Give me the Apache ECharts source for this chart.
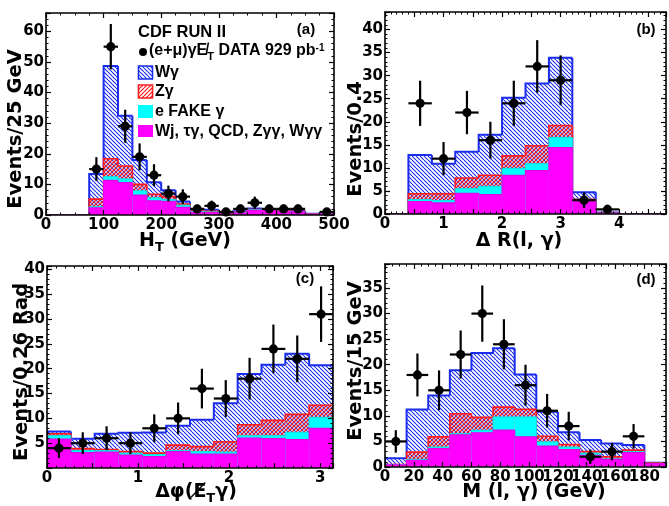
<!DOCTYPE html>
<html><head><meta charset="utf-8">
<script src="https://cdn.jsdelivr.net/npm/echarts@6/dist/echarts.min.js"></script>
<style>html,body{margin:0;padding:0;background:#fff}#c{width:669px;height:506px}</style>
</head><body><div id="c"></div><script>
// ---------- Panel (a): H_T ----------
const aEdges  = [0,25,50,75,100,125,150,175,200,225,250,275,300,325,350,375,400,425,450,475,500];
const aOther  = [0,0,0,2.3,11.3,10.6,6.5,4.6,4.5,2.5,0.9,0.8,0.6,0.7,1.5,1.5,1.1,1.0,0.3,0.4];
const aEfake  = [0,0,0,0.4,1.2,1.2,1.4,1.0,0.6,0.7,0.3,0.2,0.1,0.1,0.2,0.1,0.1,0.1,0,0];
const aZg     = [0,0,0,2.5,5.9,4.2,2.1,1.2,0.9,0.4,0.2,0.2,0.1,0.1,0.1,0.1,0.1,0.1,0.1,0.1];
const aWg     = [0,0,0,8.2,30.3,16.4,8.0,3.9,2.1,0.8,0.2,0.5,0.2,0.3,0.3,0.2,0.2,0.1,0,0.1];
const aCounts = [0,0,0,15,55,29,19,13,7,6,2,3,1,2,4,2,2,2,0,1];
const aErrs   = [0,0,0,3.9,7.4,5.4,4.4,3.6,2.6,2.4,1.4,1.7,1,1.4,2,1.4,1.4,1.4,0,1];
// ---------- Panel (b): Delta R ----------
const bEdges  = [0,0.4,0.8,1.2,1.6,2.0,2.4,2.8,3.2,3.6,4.0,4.4,4.8];
const bOther  = [0,2.7,2.4,4.5,4.2,8.4,9.4,14.4,2.9,0.2,0,0];
const bEfake  = [0,0.4,0.5,1.0,1.8,1.5,1.5,2.2,0.2,0,0,0];
const bZg     = [0,1.3,1.5,2.3,2.4,2.7,3.9,2.6,0.1,0,0,0];
const bWg     = [0,8.4,6.5,5.7,8.8,12.6,13.5,14.7,1.5,0.1,0,0];
const bCounts = [0,24,12,22,16,24,32,29,3,1,0,0];
const bErrs   = [0,4.9,3.6,4.7,4.0,4.9,5.7,5.4,1.7,1,0,0];
// ---------- Panel (c): Delta phi ----------
const cEdges  = [0,0.2618,0.5236,0.7854,1.0472,1.309,1.5708,1.8326,2.0944,2.3562,2.618,2.8798,3.1416];
const cOther  = [5.8,3.1,3.2,2.6,2.3,3.3,2.8,2.8,6.0,5.9,5.7,8.0];
const cEfake  = [0.7,0.4,0.3,0.4,0.4,0.2,0.5,0.4,0.5,0.6,1.5,2.2];
const cZg     = [0.4,0.4,0.2,0.3,0.3,1.1,1.0,2.1,2.2,3.1,3.6,2.45];
const cWg     = [0.45,2.0,3.2,3.8,4.15,3.9,5.4,7.75,10.25,11.2,12.2,8.05];
const cCounts = [4,5,6,5,8,10,16,14,18,24,22,31];
const cErrs   = [2,2.2,2.4,2.2,2.8,3.2,4,3.7,4.2,4.9,4.7,5.6];
// ---------- Panel (d): M(l,gamma) ----------
const dEdges  = [0,15,30,45,60,75,90,105,120,135,150,165,180,195];
const dOther  = [0.4,1.3,3.6,6.3,6.7,7.2,5.9,4.1,3.4,2.3,1.5,2.8,0.65];
const dEfake  = [0.05,0.2,0.3,0.2,0.5,2.6,3.9,0.8,0.5,0.4,0.1,0.2,0.05];
const dZg     = [0.05,1.4,2.0,3.9,2.5,1.9,1.5,1.1,0.5,0.3,0.4,0.3,0.05];
const dWg     = [1.2,8.35,8.1,8.5,12.6,11.5,6.8,4.8,2.4,2.3,2.6,1.0,0.1];
const dCounts = [5,18,15,22,30,24,16,11,8,2,3,6,0];
const dErrs   = [2.2,4.2,3.9,4.7,5.5,4.9,4,3.3,2.8,1.4,1.7,2.4,0];

const panels = [
  {edges:aEdges, other:aOther, efake:aEfake, zg:aZg, wg:aWg, counts:aCounts, errs:aErrs,
   grid:{left:46, top:13, width:288, height:202},
   x:{min:0, max:500, interval:100, label:100, minor:4}, y:{min:0, max:66, interval:10, label:10, minor:5, hideZero:false}},
  {edges:bEdges, other:bOther, efake:bEfake, zg:bZg, wg:bWg, counts:bCounts, errs:bErrs,
   grid:{left:385, top:12, width:282, height:202},
   x:{min:0, max:4.8, interval:0.5, label:1, minor:5}, y:{min:0, max:43.8, interval:5, label:5, minor:5, hideZero:false}},
  {edges:cEdges, other:cOther, efake:cEfake, zg:cZg, wg:cWg, counts:cCounts, errs:cErrs,
   grid:{left:47, top:266, width:286, height:202},
   x:{min:0, max:3.1416, interval:0.5, label:1, minor:5}, y:{min:0, max:40.7, interval:5, label:5, minor:5, hideZero:true}},
  {edges:dEdges, other:dOther, efake:dEfake, zg:dZg, wg:dWg, counts:dCounts, errs:dErrs,
   grid:{left:385, top:264, width:282, height:203},
   x:{min:0, max:195, interval:20, label:20, minor:4}, y:{min:0, max:39.7, interval:5, label:5, minor:5, hideZero:false}}
];

function makeHatch(lines, size, bg) {
  const cv = document.createElement('canvas'); cv.width = size; cv.height = size;
  const ctx = cv.getContext('2d');
  if (bg) { ctx.fillStyle = bg; ctx.fillRect(0, 0, size, size); }
  lines.forEach(([color, dir, w]) => {
    ctx.strokeStyle = color; ctx.lineWidth = w;
    for (let k = -1; k <= 1; k++) {
      ctx.beginPath();
      if (dir === 'b') { ctx.moveTo(k*size, 0); ctx.lineTo(k*size+size, size); }
      else { ctx.moveTo(k*size, size); ctx.lineTo(k*size+size, 0); }
      ctx.stroke();
    }
  });
  return {image: cv, repeat: 'repeat'};
}
const BLUE = '#1a2cf0', RED = '#ff1a1a', CYAN = '#00ffff', MAG = '#ff00ff';
const wgPat = makeHatch([[BLUE, 'b', 1.1]], 4, '#ffffff');
const zgPat = makeHatch([[BLUE, 'b', 1.1], [RED, 'f', 1.3]], 4, '#ffffff');
const zgLegPat = makeHatch([[RED, 'f', 1.2]], 4, '#ffffff');

function cum(p, i) {
  const m = p.other[i], c = m + p.efake[i], r = c + p.zg[i], b = r + p.wg[i];
  return [m, c, r, b];
}

function histRender(p) {
  return function (params, api) {
    const i = params.dataIndex;
    const x0 = p.edges[i], x1 = p.edges[i+1];
    const cur = cum(p, i);
    const prev = i > 0 ? cum(p, i-1) : [0,0,0,0];
    const last = i === p.edges.length - 2;
    const ch = [];
    const rect = (yt, fill, z2) => {
      const A = api.coord([x0, yt]), B = api.coord([x1, 0]);
      return {type:'rect', shape:{x:A[0], y:A[1], width:B[0]-A[0], height:B[1]-A[1]}, style:{fill:fill}, z2:z2};
    };
    if (cur[3] > 0) ch.push(rect(cur[3], wgPat, 1));
    if (cur[2] > 0) ch.push(rect(cur[2], zgPat, 3));
    if (cur[1] > 0) ch.push(rect(cur[1], CYAN, 5));
    if (cur[0] > 0) ch.push(rect(cur[0], MAG, 7));
    const outline = (k, color, w, z2) => {
      const pts = [api.coord([x0, prev[k]]), api.coord([x0, cur[k]]), api.coord([x1, cur[k]])];
      if (last) pts.push(api.coord([x1, 0]));
      return {type:'polyline', shape:{points:pts}, style:{stroke:color, lineWidth:w, fill:null}, z2:z2};
    };
    ch.push(outline(3, BLUE, 2, 2));
    ch.push(outline(2, RED, 1.6, 4));
    ch.push(outline(1, '#00e8e8', 1, 6));
    ch.push(outline(0, '#e600e6', 1.2, 8));
    return {type:'group', children:ch};
  };
}

function errRender(p) {
  return function (params, api) {
    const i = params.dataIndex;
    const n = p.counts[i];
    if (!(n > 0)) return null;
    const xc = (p.edges[i] + p.edges[i+1]) / 2, e = p.errs[i];
    const T = api.coord([xc, n + e]), B = api.coord([xc, Math.max(n - e, 0)]);
    const L = api.coord([p.edges[i], n]), R = api.coord([p.edges[i+1], n]), C = api.coord([xc, n]);
    return {type:'group', children:[
      {type:'line', shape:{x1:T[0], y1:T[1], x2:B[0], y2:B[1]}, style:{stroke:'#000', lineWidth:2.2}},
      {type:'line', shape:{x1:L[0], y1:L[1], x2:R[0], y2:R[1]}, style:{stroke:'#000', lineWidth:2.2}},
      {type:'circle', shape:{cx:C[0], cy:C[1], r:4.6}, style:{fill:'#000'}}
    ]};
  };
}

const tickFont = {color:'#000', fontFamily:'DejaVu Sans', fontWeight:'bold', fontSize:15};
function labelFmt(step, hideZero) {
  return function (v) {
    const q = v / step;
    if (Math.abs(q - Math.round(q)) > 1e-6) return '';
    if (hideZero && Math.abs(v) < 1e-9) return '';
    return String(Math.round(v * 1000) / 1000);
  };
}

const grids = [], xAxes = [], yAxes = [], series = [];
panels.forEach((p, i) => {
  grids.push(Object.assign({containLabel:false}, p.grid));
  [false, true].forEach(top => {
    xAxes.push({type:'value', gridIndex:i, position: top ? 'top' : 'bottom', min:p.x.min, max:p.x.max, interval:p.x.interval, z:10,
      axisLine:{show:true, onZero:false, lineStyle:{color:'#000', width:1.6}},
      axisTick:{show:true, inside:true, length:5, lineStyle:{color:'#000', width:1.2}},
      minorTick:{show:true, splitNumber:p.x.minor, length:2.5, lineStyle:{color:'#000', width:1}},
      splitLine:{show:false}, minorSplitLine:{show:false},
      axisLabel:Object.assign({show:!top, margin:3, formatter:labelFmt(p.x.label, false), showMaxLabel:true, showMinLabel:true}, tickFont)});
  });
  [false, true].forEach(right => {
    yAxes.push({type:'value', gridIndex:i, position: right ? 'right' : 'left', min:p.y.min, max:p.y.max, interval:p.y.interval, z:10,
      axisLine:{show:true, onZero:false, lineStyle:{color:'#000', width:1.6}},
      axisTick:{show:true, inside:true, length:5, lineStyle:{color:'#000', width:1.2}},
      minorTick:{show:true, splitNumber:p.y.minor, length:2.5, lineStyle:{color:'#000', width:1}},
      splitLine:{show:false}, minorSplitLine:{show:false},
      axisLabel:Object.assign({show:!right, margin:2, formatter:labelFmt(p.y.label, p.y.hideZero)}, tickFont)});
  });
  const binData = p.edges.slice(0, -1).map((e, k) => [(e + p.edges[k+1]) / 2, cum(p, k)[3]]);
  series.push({type:'custom', xAxisIndex:2*i, yAxisIndex:2*i, z:2, silent:true, clip:true,
    renderItem:histRender(p), data:binData});
  const ptData = p.edges.slice(0, -1).map((e, k) => [(e + p.edges[k+1]) / 2, p.counts[k]]);
  series.push({type:'custom', xAxisIndex:2*i, yAxisIndex:2*i, z:4, silent:true, clip:false,
    renderItem:errRender(p), data:ptData});
});

const TF = 'DejaVu Sans', LF = 'Liberation Sans';
function txt(x, y, text, size, family, opts) {
  opts = opts || {};
  return {type:'text', x:x, y:y, rotation:opts.rot || 0, z:20, silent:true,
    style:Object.assign({text:text, fill:'#000', fontFamily:family, fontWeight:'bold', fontSize:size,
      textAlign:opts.align || 'center', textVerticalAlign:'middle', align:opts.align || 'center', verticalAlign:'middle'}, opts.style || {})};
}
function richT(size, fam) {
  return {
    m:{fontSize:size, fontFamily:fam, fontWeight:'bold', lineHeight:size+2, verticalAlign:'top'},
    s:{fontSize:Math.round(size*0.68), fontFamily:fam, fontWeight:'bold', lineHeight:Math.round(size*0.68), verticalAlign:'top', padding:[Math.round(size*0.5),0,0,0]},
    p:{fontSize:Math.round(size*0.62), fontFamily:fam, fontWeight:'bold', lineHeight:Math.round(size*0.62), verticalAlign:'top', padding:[0,0,0,0]}
  };
}
const graphics = [
  // y titles
  txt(16, 129, 'Events/25 GeV', 19.5, TF, {rot:Math.PI/2}),
  txt(356, 139, 'Events/0.4', 19.5, TF, {rot:Math.PI/2}),
  txt(22, 372, 'Events/0.26 Rad', 19.5, TF, {rot:Math.PI/2}),
  txt(356, 361, 'Events/15 GeV', 19.5, TF, {rot:Math.PI/2}),
  // x titles
  txt(185, 242, '{m|H}{s|T}{m| (GeV)}', 19, TF, {style:{rich:richT(19, TF)}}),
  txt(519, 242, '{m|Δ R(l, γ)}', 19, TF, {style:{rich:richT(19, TF)}}),
  txt(196, 493, '{m|Δφ(E\u0338}{s|T}{m|γ)}', 19, TF, {style:{rich:richT(19, TF)}}),
  txt(534, 493, '{m|M (l, γ) (GeV)}', 19, TF, {style:{rich:richT(19, TF)}}),
  // panel labels
  txt(306, 30, '(a)', 15, LF), txt(646, 30, '(b)', 15, LF),
  txt(305, 279, '(c)', 15, LF), txt(646, 280, '(d)', 15, LF),
  // legend
  txt(138, 32, 'CDF RUN II', 16.5, LF, {align:'left'}),
  {type:'circle', shape:{cx:143, cy:52, r:4}, style:{fill:'#000'}, z:20, silent:true},
  txt(149, 52, '{m|(e+μ)γE\u0338}{s|T}{m| DATA 929 pb}{p|-1}', 16, LF, {align:'left', style:{rich:richT(16, LF)}}),
  {type:'rect', shape:{x:138.5, y:66, width:14, height:13}, style:{fill:wgPat, stroke:BLUE, lineWidth:1.6}, z:20, silent:true},
  txt(155, 72.5, 'Wγ', 16, LF, {align:'left'}),
  {type:'rect', shape:{x:138.5, y:85, width:14, height:13}, style:{fill:zgLegPat, stroke:RED, lineWidth:1.6}, z:20, silent:true},
  txt(155, 91.5, 'Zγ', 16, LF, {align:'left'}),
  {type:'rect', shape:{x:138, y:105, width:15, height:13}, style:{fill:CYAN}, z:20, silent:true},
  txt(155, 111.5, 'e FAKE γ', 16, LF, {align:'left'}),
  {type:'rect', shape:{x:138, y:125, width:15, height:12}, style:{fill:MAG}, z:20, silent:true},
  txt(155, 131.5, 'Wj, τγ, QCD, Zγγ, Wγγ', 16, LF, {align:'left'})
];

const chart = echarts.init(document.getElementById('c'), null, {renderer:'canvas'});
chart.setOption({
  animation:false, backgroundColor:'#ffffff',
  grid:grids, xAxis:xAxes, yAxis:yAxes, series:series, graphic:graphics
});
</script></body></html>
